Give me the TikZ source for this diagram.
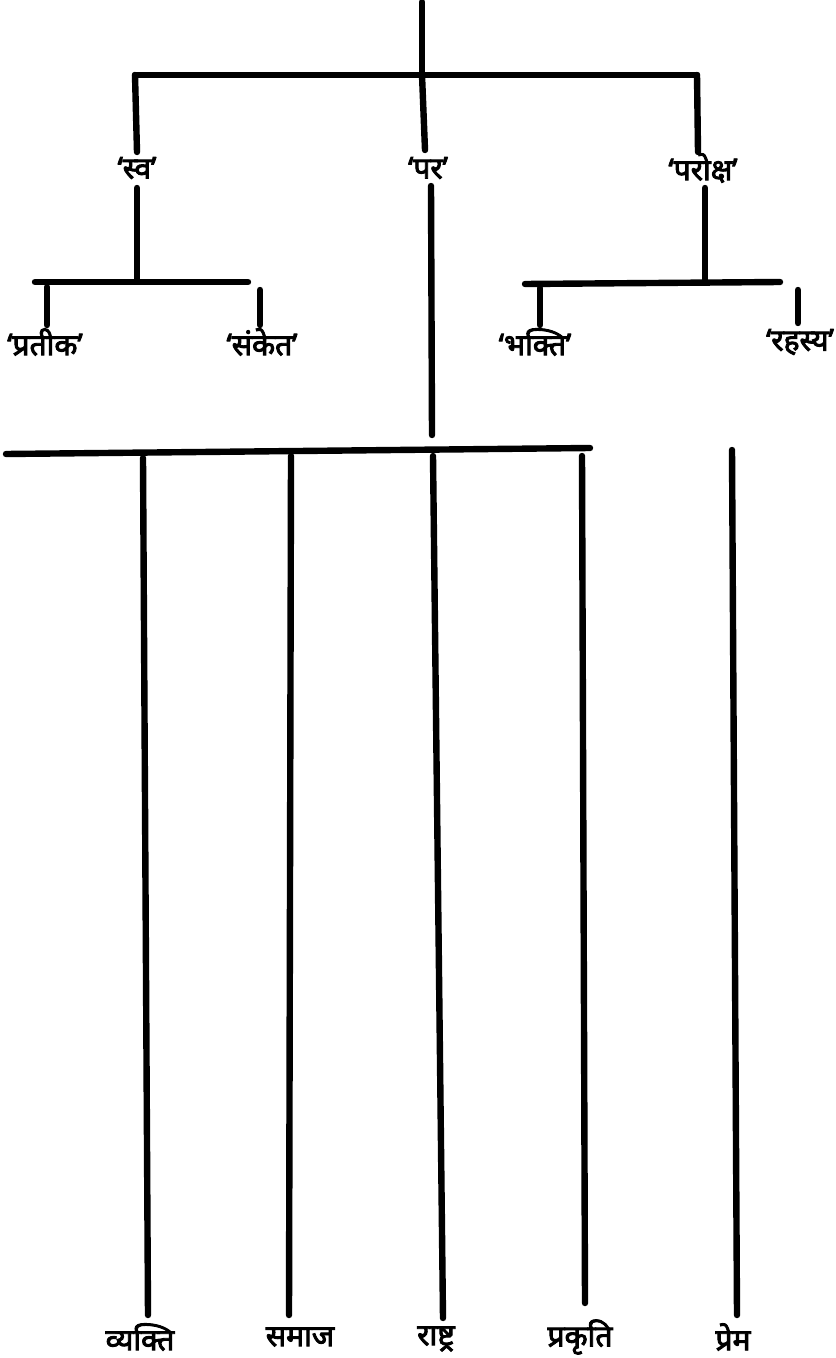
\documentclass[tikz,border=0pt]{standalone}
\usepackage{fontspec}
\newfontfamily\devfont[Script=Devanagari,FakeBold=3]{Noto Sans}
\begin{document}
\begin{tikzpicture}[x=0.5pt,y=-0.5pt,
  ln/.style={line width=3.2pt,line cap=round},
  lbl/.style={font=\devfont\fontsize{15}{17}\selectfont,inner sep=1pt}]
\useasboundingbox (0,0) rectangle (835,1358);
% level 1
\coordinate (top) at (422,2);
\coordinate (h1l) at (135,75);
\coordinate (h1m) at (422,75);
\coordinate (h1r) at (697,75);
\coordinate (d1a) at (137,152);
\coordinate (d1b) at (425,150);
\coordinate (d1c) at (698,152);
\node[lbl] (sva) at (137,168) {‘स्व’};
\node[lbl] (par) at (428,168) {‘पर’};
\node[lbl] (paroksh) at (703,168) {‘परोक्ष’};
\draw[ln] (top) -- (h1m);
\draw[ln] (h1l) -- (h1r);
\draw[ln] (h1l) -- (d1a);
\draw[ln] (h1m) -- (d1b);
\draw[ln] (h1r) -- (d1c);
% under sva
\coordinate (s1) at (137,188);
\coordinate (s2) at (137,280);
\coordinate (sh1) at (35,282);
\coordinate (sh2) at (248,282);
\coordinate (sd1t) at (47,287);
\coordinate (sd1b) at (47,325);
\coordinate (sd2t) at (260,290);
\coordinate (sd2b) at (260,325);
\node[lbl] (prateek) at (45,342) {‘प्रतीक’};
\node[lbl] (sanket) at (262,342) {‘संकेत’};
\draw[ln] (s1) -- (s2);
\draw[ln] (sh1) -- (sh2);
\draw[ln] (sd1t) -- (sd1b);
\draw[ln] (sd2t) -- (sd2b);
% under paroksh
\coordinate (p1) at (705,188);
\coordinate (p2) at (705,280);
\coordinate (ph1) at (525,284);
\coordinate (ph2) at (780,282);
\coordinate (pd1t) at (540,288);
\coordinate (pd1b) at (540,325);
\coordinate (pd2t) at (798,290);
\coordinate (pd2b) at (798,323);
\node[lbl] (bhakti) at (535,342) {‘भक्ति’};
\node[lbl] (rahasya) at (800,342) {‘रहस्य’};
\draw[ln] (p1) -- (p2);
\draw[ln] (ph1) -- (ph2);
\draw[ln] (pd1t) -- (pd1b);
\draw[ln] (pd2t) -- (pd2b);
% under par
\coordinate (m1) at (431,186);
\coordinate (m2) at (432,435);
\draw[ln] (m1) -- (m2);
\coordinate (bh1) at (6,454);
\coordinate (bh2) at (590,448);
\draw[ln] (bh1) -- (bh2);
% bottom verticals
\coordinate (v1t) at (143,458);
\coordinate (v1b) at (148,1315);
\coordinate (v2t) at (291,456);
\coordinate (v2b) at (289,1315);
\coordinate (v3t) at (433,456);
\coordinate (v3b) at (443,1318);
\coordinate (v4t) at (582,456);
\coordinate (v4b) at (585,1303);
\coordinate (v5t) at (732,450);
\coordinate (v5b) at (737,1315);
\draw[ln] (v1t) -- (v1b);
\draw[ln] (v2t) -- (v2b);
\draw[ln] (v3t) -- (v3b);
\draw[ln] (v4t) -- (v4b);
\draw[ln] (v5t) -- (v5b);
\node[lbl] (vyakti) at (140,1337) {व्यक्ति};
\node[lbl] (samaj) at (300,1337) {समाज};
\node[lbl] (rashtra) at (436,1339) {राष्ट्र};
\node[lbl] (prakriti) at (580,1337) {प्रकृति};
\node[lbl] (prem) at (733,1337) {प्रेम};
\end{tikzpicture}
\end{document}
